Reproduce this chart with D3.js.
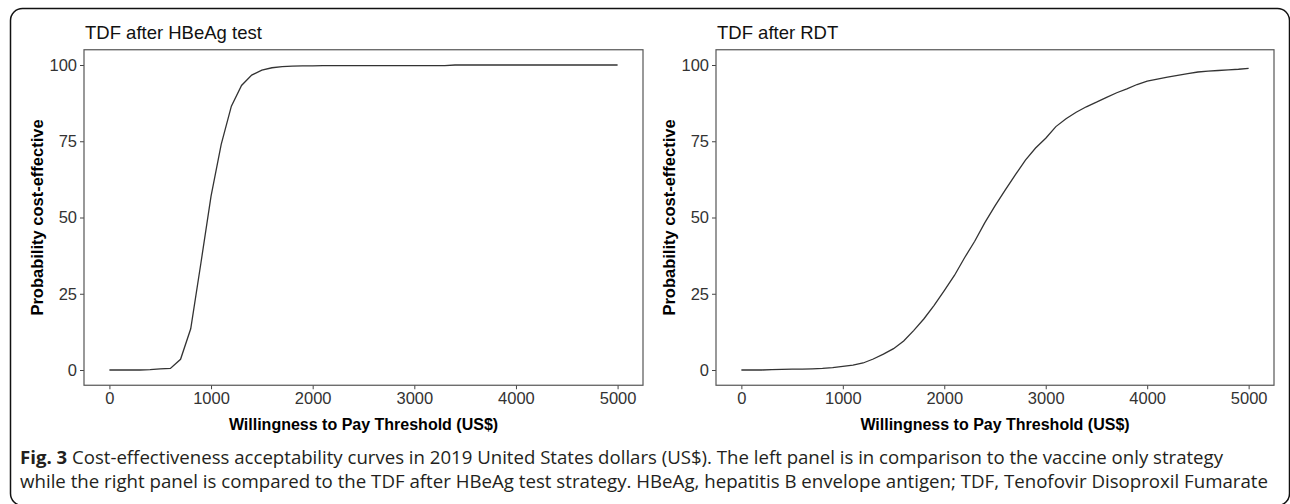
<!DOCTYPE html>
<html>
<head>
<meta charset="utf-8">
<script src="https://cdn.jsdelivr.net/npm/d3@7"></script>
<style>
  html, body { margin: 0; padding: 0; background: #fff; }
  svg { display: block; }
</style>
</head>
<body>
<div id="chart"></div>
<script>
const width = 1290;
const height = 504;

// willingness-to-pay grid (US$)
const wtp = [0, 100, 200, 300, 400, 500, 600, 700, 800, 900,
  1000, 1100, 1200, 1300, 1400, 1500, 1600, 1700, 1800, 1900,
  2000, 2100, 2200, 2300, 2400, 2500, 2600, 2700, 2800, 2900,
  3000, 3100, 3200, 3300, 3400, 3500, 3600, 3700, 3800, 3900,
  4000, 4100, 4200, 4300, 4400, 4500, 4600, 4700, 4800, 4900, 5000];

// probability cost-effective (%)
const hbeagTest = [0, 0, 0, 0, 0.1, 0.4, 0.5, 3.5, 13.5, 35,
  57, 74, 86.5, 93.3, 96.7, 98.3, 99.1, 99.5, 99.6, 99.7,
  99.7, 99.8, 99.8, 99.8, 99.8, 99.8, 99.8, 99.8, 99.8, 99.8,
  99.8, 99.8, 99.8, 99.8, 100, 100, 100, 100, 100, 100,
  100, 100, 100, 100, 100, 100, 100, 100, 100, 100, 100];

const rdt = [0, 0, 0, 0.1, 0.2, 0.3, 0.3, 0.4, 0.5, 0.8,
  1.2, 1.6, 2.3, 3.6, 5.2, 7.0, 9.5, 13.0, 16.8, 21.2,
  26, 31, 36.8, 42.2, 48.3, 53.8, 59, 64, 68.8, 72.8,
  76, 79.8, 82.4, 84.5, 86.3, 87.8, 89.4, 90.9, 92.2, 93.6,
  94.7, 95.4, 96.0, 96.6, 97.2, 97.7, 98.0, 98.2, 98.4, 98.6, 98.9];

const xTicks = [0, 1000, 2000, 3000, 4000, 5000];
const yTicks = [0, 25, 50, 75, 100];

const panels = [
  { title: "TDF after HBeAg test", values: hbeagTest, left: 84, right: 643 },
  { title: "TDF after RDT", values: rdt, left: 716, right: 1274 }
];

const captionLines = [
  { bold: "Fig. 3", text: " Cost-effectiveness acceptability curves in 2019 United States dollars (US$). The left panel is in comparison to the vaccine only strategy", end: 1223 },
  { bold: "", text: "while the right panel is compared to the TDF after HBeAg test strategy. HBeAg, hepatitis B envelope antigen; TDF, Tenofovir Disoproxil Fumarate", end: 1268 }
];

const svg = d3.select("#chart")
  .append("svg")
  .attr("width", width)
  .attr("height", height);

// rounded frame
svg.append("rect")
  .attr("x", 10.5)
  .attr("y", 8.5)
  .attr("width", 1279)
  .attr("height", 497)
  .attr("rx", 12)
  .attr("fill", "none")
  .attr("stroke", "#111")
  .attr("stroke-width", 1.5);

const panelTop = 49.75, panelBottom = 385.25;

panels.forEach(p => {
  const x = d3.scaleLinear().domain([-250, 5250]).range([p.left, p.right]);
  const y = d3.scaleLinear().domain([-5, 105]).range([panelBottom, panelTop]);

  const g = svg.append("g");

  // axes
  const gx = g.append("g")
    .attr("transform", `translate(0,${panelBottom})`)
    .call(d3.axisBottom(x).tickValues(xTicks).tickSize(4).tickPadding(3).tickFormat(d3.format("d")));
  const gy = g.append("g")
    .attr("transform", `translate(${p.left},0)`)
    .call(d3.axisLeft(y).tickValues(yTicks).tickSize(4).tickPadding(3));

  [gx, gy].forEach(a => {
    a.select(".domain").remove();
    a.selectAll(".tick line").attr("stroke", "#444");
    a.selectAll(".tick text")
      .attr("fill", "#333")
      .style("font-family", "'Liberation Sans', Arial, sans-serif")
      .style("font-size", "16.5px");
  });

  // panel border
  g.append("rect")
    .attr("x", p.left)
    .attr("y", panelTop)
    .attr("width", p.right - p.left)
    .attr("height", panelBottom - panelTop)
    .attr("fill", "none")
    .attr("stroke", "#555")
    .attr("stroke-width", 1.2);

  // curve
  const line = d3.line()
    .x((d, i) => x(wtp[i]))
    .y(d => y(d));

  g.append("path")
    .datum(p.values)
    .attr("d", line)
    .attr("fill", "none")
    .attr("stroke", "#333")
    .attr("stroke-width", 1.3);

  // title
  g.append("text")
    .attr("x", p.left + 1)
    .attr("y", 39)
    .attr("fill", "#111")
    .style("font-family", "'Liberation Sans', Arial, sans-serif")
    .style("font-size", "18.5px")
    .text(p.title);

  // axis titles
  g.append("text")
    .attr("x", (p.left + p.right) / 2)
    .attr("y", 430)
    .attr("text-anchor", "middle")
    .attr("fill", "#000")
    .style("font-family", "'Liberation Sans', Arial, sans-serif")
    .style("font-size", "16px")
    .style("font-weight", "bold")
    .text("Willingness to Pay Threshold (US$)");

  g.append("text")
    .attr("transform", `translate(${p.left - 41},${(y(0) + y(100)) / 2}) rotate(-90)`)
    .attr("text-anchor", "middle")
    .attr("fill", "#000")
    .style("font-family", "'Liberation Sans', Arial, sans-serif")
    .style("font-size", "16.5px")
    .style("font-weight", "bold")
    .text("Probability cost-effective");
});

// caption
captionLines.forEach((c, i) => {
  const t = svg.append("text")
    .attr("x", 20)
    .attr("y", 464 + i * 23.5)
    .attr("fill", "#231f20")
    .style("font-family", "'Open Sans', 'Noto Sans', sans-serif")
    .style("font-size", "18px")
    .attr("textLength", c.end - 20)
    .attr("lengthAdjust", "spacingAndGlyphs");
  if (c.bold) t.append("tspan").style("font-weight", "bold").text(c.bold);
  t.append("tspan").text(c.text);
});
</script>
</body>
</html>
